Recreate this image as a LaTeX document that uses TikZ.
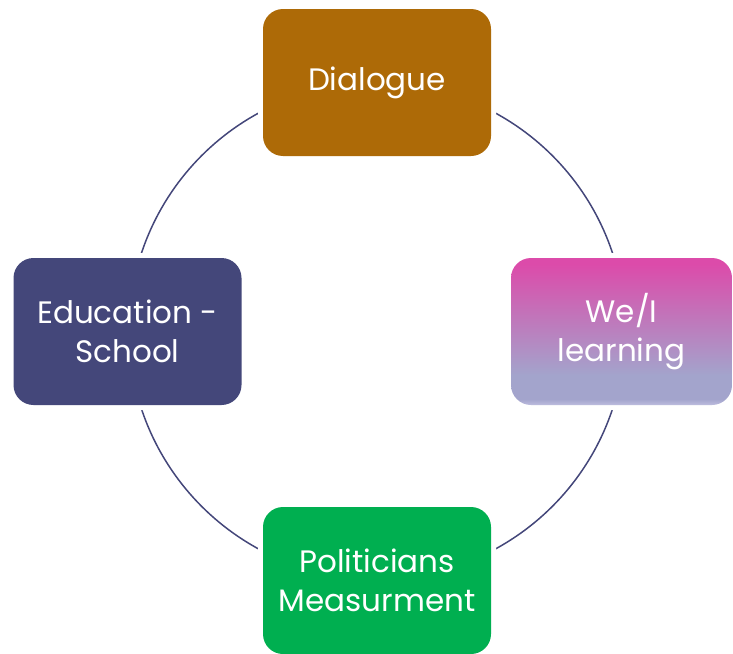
\documentclass[tikz,border=0pt]{standalone}
\usepackage{fontspec}
\setmainfont{Poppins}
\definecolor{ringc}{HTML}{44477A}
\definecolor{dialc}{HTML}{AD6A07}
\definecolor{educ}{HTML}{44477A}
\definecolor{polc}{HTML}{00AF50}
\definecolor{wtop}{HTML}{DC4BAA}
\definecolor{wmid}{HTML}{A3A4CC}
\definecolor{wbot}{HTML}{BDBDDE}
\pgfdeclareverticalshading{weshade}{100bp}{color(0bp)=(wbot); color(25bp)=(wbot); color(27bp)=(wmid); color(35bp)=(wmid); color(73bp)=(wtop); color(100bp)=(wtop)}
\tikzset{
  box/.style={rounded corners=20pt, minimum width=228pt, minimum height=147pt,
    inner sep=0pt, text=white, align=center, font=\fontsize{31}{39}\selectfont,
    preaction={draw=white, line width=10pt}},
  ringstyle/.style={circle, draw=ringc, line width=1.5pt, minimum size=496pt, inner sep=0pt}
}
\begin{document}
\begin{tikzpicture}[x=1pt,y=-1pt]
\useasboundingbox (0,0) rectangle (733,653);
\node[ringstyle] (ring) at (377,331) {};
\node[box, fill=dialc] (dial) at (377,82.5) {Dialogue};
\node[box, shading=weshade, minimum width=221pt] (we) at (621.5,331.5) {We/I\\learning};
\node[box, fill=polc] (pol) at (377,580.5) {Politicians\\Measurment};
\node[box, fill=educ] (edu) at (127.5,331.5) {Education -\\School};
\end{tikzpicture}
\end{document}
